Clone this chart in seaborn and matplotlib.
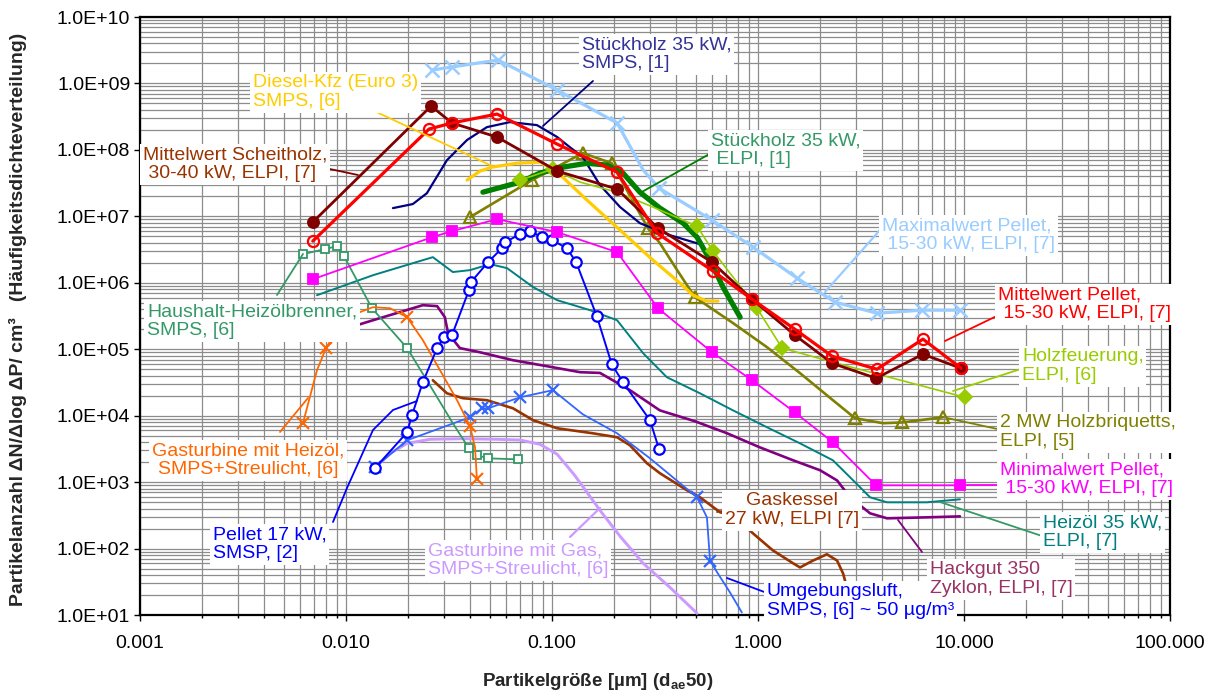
import numpy as np
import matplotlib
matplotlib.use("Agg")
import matplotlib.pyplot as plt
import matplotlib.ticker as mticker
from matplotlib.lines import Line2D
from matplotlib.transforms import IdentityTransform
import seaborn as sns

# ---------------------------------------------------------------------------
# Particle number size distributions, dN/dlog dP [1/cm^3] over particle size [µm]
# ---------------------------------------------------------------------------
max_pellet_x = [0.0262, 0.0327, 0.0547, 0.106, 0.207, 0.277, 0.331, 0.598, 0.946, 1.55, 2.37, 3.78, 6.25, 9.56]
max_pellet_y = [1.59e9, 1.77e9, 2.25e9, 7.96e8, 2.54e8, 4.97e7, 2.66e7, 8.77e6, 3.44e6, 1.17e6, 5.1e5, 3.48e5, 3.87e5, 3.87e5]

mean_pellet_x = [0.0069, 0.0253, 0.0327, 0.0541, 0.106, 0.207, 0.324, 0.605, 0.935, 1.51, 2.29, 3.78, 6.32, 9.67]
mean_pellet_y = [4.24e6, 2.06e8, 2.54e8, 3.46e8, 1.22e8, 4.63e7, 5.58e6, 1.50e6, 5.66e5, 2.0e5, 7.85e4, 5.0e4, 1.42e5, 5.18e4]

scheitholz_x = [0.0069, 0.0259, 0.0327, 0.0541, 0.106, 0.207, 0.327, 0.598, 0.935, 1.51, 2.29, 3.74, 6.32, 9.67]
scheitholz_y = [8.19e6, 4.57e8, 2.54e8, 1.56e8, 4.80e7, 2.57e7, 6.64e6, 2.04e6, 5.66e5, 1.63e5, 6.15e4, 3.66e4, 8.41e4, 5.18e4]

stueck_smps_x = [0.0169, 0.0211, 0.0247, 0.0309, 0.0387, 0.0483, 0.0625, 0.0845, 0.106, 0.122, 0.141, 0.171, 0.214, 0.267, 0.374, 0.523]
stueck_smps_y = [1.33e7, 1.53e7, 2.23e7, 7.0e7, 1.41e8, 2.2e8, 2.62e8, 2.36e8, 1.56e8, 1.10e8, 7.8e7, 2.95e7, 1.38e7, 7.9e6, 5.2e6, 3.81e6]

diesel_x = [0.0387, 0.0447, 0.0512, 0.0676, 0.0875, 0.1035, 0.148, 0.214, 0.309, 0.418, 0.483, 0.565, 0.639]
diesel_y = [3.51e7, 4.8e7, 5.5e7, 6.3e7, 6.55e7, 4.97e7, 1.75e7, 6.2e6, 2.19e6, 9.9e5, 6.5e5, 5.3e5, 5.3e5]

stueck_elpi_x = [0.0462, 0.070, 0.0875, 0.113, 0.148, 0.185, 0.221, 0.267, 0.334, 0.433, 0.506, 0.585, 0.676, 0.819]
stueck_elpi_y = [2.31e7, 3.27e7, 4.48e7, 5.5e7, 6.3e7, 5.9e7, 4.48e7, 2.31e7, 1.33e7, 7.9e6, 4.86e6, 2.19e6, 8.6e5, 3.03e5]

holzfeuerung_x = [0.070, 0.101, 0.137, 0.207, 0.309, 0.506, 0.605, 0.989, 1.31, 2.31, 10.1]
holzfeuerung_y = [3.51e7, 5.14e7, 3.27e7, 2.31e7, 1.38e7, 7.1e6, 2.99e6, 4.14e5, 1.04e5, 6.37e4, 1.89e4]

briketts_x = [0.040, 0.080, 0.141, 0.195, 0.221, 0.292, 0.334, 0.405, 0.494, 0.757, 1.107, 1.60, 2.31, 2.96, 4.05, 5.0, 7.9]
briketts_y = [9.73e6, 3.51e7, 8.96e7, 6.3e7, 3.16e7, 6.64e6, 3.95e6, 1.55e6, 6.07e5, 2.47e5, 1.07e5, 4.36e4, 1.71e4, 9.15e3, 7.7e3, 7.9e3, 9.46e3]

min_pellet_x = [0.0069, 0.0262, 0.0327, 0.0541, 0.106, 0.207, 0.327, 0.598, 0.935, 1.51, 2.31, 3.74, 9.56]
min_pellet_y = [1.13e6, 4.86e6, 5.98e6, 9.07e6, 5.78e6, 2.89e6, 4.14e5, 9.0e4, 3.41e4, 1.12e4, 3.97e3, 896, 896]

pellet17_x = [0.0138, 0.0198, 0.0209, 0.0236, 0.0277, 0.0299, 0.0327, 0.0395, 0.0404, 0.0489, 0.0572, 0.0592,
              0.070, 0.0782, 0.0893, 0.100, 0.118, 0.131, 0.165, 0.195, 0.221, 0.299, 0.331]
pellet17_y = [1.61e3, 5.62e3, 1.01e4, 3.19e4, 1.04e5, 1.52e5, 1.63e5, 7.7e5, 1.02e6, 2.04e6, 3.32e6, 4.08e6,
              5.4e6, 5.98e6, 4.86e6, 4.38e6, 3.32e6, 2.04e6, 3.14e5, 5.94e4, 3.19e4, 8.53e3, 3.12e3]

haushalt_x = [0.00618, 0.0079, 0.00904, 0.00977, 0.01337, 0.0198, 0.0264, 0.033, 0.0395, 0.0432, 0.0489, 0.0684]
haushalt_y = [2.7e6, 3.21e6, 3.56e6, 2.52e6, 4.14e5, 1.04e5, 2.42e4, 7.7e3, 3.23e3, 2.54e3, 2.28e3, 2.2e3]

gt_heizoel_x = [0.00618, 0.00723, 0.0080, 0.00914, 0.0099, 0.0113, 0.01352, 0.01637, 0.0198, 0.0236, 0.0286,
                0.0346, 0.040, 0.0423, 0.0432]
gt_heizoel_y = [7.7e3, 4.83e4, 1.04e5, 2.07e5, 2.14e5, 3.48e5, 4.29e5, 4.14e5, 3.03e5, 1.37e5, 4.83e4,
                1.71e4, 6.92e3, 3.34e3, 1.10e3]

heizoel35_x = [0.00723, 0.01352, 0.0264, 0.033, 0.040, 0.050, 0.0605, 0.081, 0.106, 0.153, 0.207, 0.277, 0.361,
               0.523, 0.757, 1.107, 1.60, 2.31, 2.80, 3.50, 4.23, 6.61, 9.56]
heizoel35_y = [6.5e5, 1.3e6, 2.43e6, 1.45e6, 1.55e6, 1.91e6, 1.66e6, 8.6e5, 5.47e5, 3.87e5, 2.73e5, 8.7e4, 3.79e4,
               2.17e4, 1.2e4, 6.68e3, 3.83e3, 2.13e3, 1.18e3, 590, 497, 497, 551]

hackgut_x = [0.00708, 0.01352, 0.0236, 0.0277, 0.0302, 0.0313, 0.0357, 0.0447, 0.0647, 0.0946, 0.137, 0.171,
             0.239, 0.334, 0.494, 0.708, 1.02, 1.48, 2.0, 2.42, 2.80, 3.50, 4.23, 6.61, 9.56]
hackgut_y = [1.47e5, 2.73e5, 4.6e5, 4.45e5, 3.03e5, 1.74e5, 1.04e5, 9.0e4, 6.83e4, 5.55e4, 4.51e4, 4.4e4,
             2.42e4, 1.2e4, 8.24e3, 5.43e3, 3.34e3, 2.13e3, 1.51e3, 1.06e3, 590, 339, 285, 295, 305]

gaskessel_x = [0.0264, 0.0309, 0.037, 0.0483, 0.0647, 0.081, 0.106, 0.158, 0.207, 0.239, 0.289, 0.334, 0.452,
               0.523, 0.655, 0.757, 0.946, 1.18, 1.48, 1.60, 1.85, 2.16, 2.42, 2.59, 2.74]
gaskessel_y = [3.41e4, 2.17e4, 1.83e4, 1.71e4, 1.29e4, 8.53e3, 6.46e3, 5.43e3, 4.73e3, 3.58e3, 1.92e3, 1.36e3, 754,
               590, 351, 316, 169, 94, 60, 52, 66, 82, 66, 42, 21.9]

gt_gas_x = [0.0138, 0.0164, 0.0198, 0.0256, 0.037, 0.0541, 0.070, 0.0875, 0.106, 0.129, 0.171, 0.214, 0.277, 0.374, 0.506]
gt_gas_y = [1.61e3, 2.72e3, 3.83e3, 4.41e3, 4.5e3, 4.41e3, 4.3e3, 3.71e3, 2.62e3, 1.26e3, 376, 153, 60, 26, 10.6]

umgebung_x = [0.0138, 0.0198, 0.040, 0.0457, 0.0489, 0.070, 0.101, 0.141, 0.207, 0.299, 0.506, 0.565, 0.585,
              0.633, 0.731, 0.835]
umgebung_y = [1.67e3, 4.26e3, 9.46e3, 1.29e4, 1.29e4, 1.89e4, 2.42e4, 1.05e4, 5.43e3, 2.28e3, 590, 295, 66,
              44, 21.9, 10.9]

x_ticks = [0.001, 0.01, 0.1, 1, 10, 100]
y_ticks = [1e1, 1e2, 1e3, 1e4, 1e5, 1e6, 1e7, 1e8, 1e9, 1e10]

# ---------------------------------------------------------------------------
sns.set_theme(style="white")
plt.rcParams["font.family"] = ["Liberation Sans", "DejaVu Sans"]
plt.rcParams["mathtext.fontset"] = "custom"
plt.rcParams["mathtext.rm"] = "Liberation Sans"
plt.rcParams["mathtext.bf"] = "Liberation Sans:bold"

W, H = 1219, 695
fig = plt.figure(figsize=(W / 100, H / 100), dpi=100)
fig.patch.set_facecolor("white")
ax = fig.add_axes([140 / W, 1 - 615 / H, 1030 / W, 598 / H])
ax.set_facecolor("white")
ax.set_xscale("log")
ax.set_yscale("log")


def curve(x, y, color, lw, marker=None, ms=0, mfc=None, mew=1.3, every=None, z=3):
    kw = dict(color=color, linewidth=lw, sort=False, estimator=None, ax=ax, zorder=z)
    if marker:
        kw.update(marker=marker, markersize=ms, markeredgecolor=color,
                  markerfacecolor=color if mfc is None else mfc, markeredgewidth=mew)
        if every is not None:
            kw["markevery"] = every
    sns.lineplot(x=x, y=y, **kw)


# series, back to front
curve(gt_gas_x, gt_gas_y, "#CC99FF", 2.1)
curve(gaskessel_x, gaskessel_y, "#993300", 1.9)
curve(hackgut_x, hackgut_y, "#800080", 1.9)
curve(heizoel35_x, heizoel35_y, "#008080", 1.4)
curve(umgebung_x, umgebung_y, "#3366FF", 1.3, "x", 9, mew=1.6, every=[0, 1, 2, 3, 4, 5, 6, 10, 12])
curve(haushalt_x, haushalt_y, "#339966", 1.3, "s", 6, mfc="white", every=[0, 1, 2, 3, 4, 5, 8, 9, 10, 11])
curve(gt_heizoel_x, gt_heizoel_y, "#FF6600", 1.3, "x", 8, mew=1.5, every=[0, 2, 3, 4, 8, 12, 14])
curve(pellet17_x, pellet17_y, "#0000FF", 1.4, "o", 7.5, mfc="white", mew=1.6)
curve(min_pellet_x, min_pellet_y, "#FF00FF", 1.3, "s", 7)
curve(max_pellet_x, max_pellet_y, "#99CCFF", 2.3, "x", 10, mew=1.8, every=[0, 1, 2, 3, 4, 6, 7, 8, 9, 10, 11, 12, 13])
curve(briketts_x, briketts_y, "#808000", 1.9, "^", 8, mfc="none", mew=1.6, every=[0, 1, 2, 3, 5, 8, 13, 15, 16])
curve(diesel_x, diesel_y, "#FFCC00", 2.3)
curve(stueck_smps_x, stueck_smps_y, "#000080", 1.6)
curve(stueck_elpi_x, stueck_elpi_y, "#008000", 3.8)
curve(holzfeuerung_x, holzfeuerung_y, "#99CC00", 1.2, "D", 7, every=[0, 1, 5, 6, 7, 8, 10])
curve(scheitholz_x, scheitholz_y, "#800000", 2.0, "o", 8)
curve(mean_pellet_x, mean_pellet_y, "#FF0000", 2.3, "o", 8, mfc="none", mew=1.6)

# axes, grid and ticks
ax.set_xlim(1e-3, 1e2)
ax.set_ylim(1e1, 1e10)
ax.xaxis.set_major_locator(mticker.FixedLocator(x_ticks))
ax.yaxis.set_major_locator(mticker.FixedLocator(y_ticks))
ax.xaxis.set_minor_locator(mticker.LogLocator(base=10, subs=np.arange(2, 10), numticks=30))
ax.yaxis.set_minor_locator(mticker.LogLocator(base=10, subs=np.arange(2, 10), numticks=30))
ax.xaxis.set_major_formatter(mticker.FuncFormatter(lambda v, _: f"{v:.3f}"))
ax.yaxis.set_major_formatter(mticker.FuncFormatter(lambda v, _: f"{v:.1E}"))
ax.xaxis.set_minor_formatter(mticker.NullFormatter())
ax.yaxis.set_minor_formatter(mticker.NullFormatter())
ax.grid(True, which="both", color="#8c8c8c", linewidth=0.9)
ax.set_axisbelow(True)
ax.tick_params(which="both", bottom=True, left=True, direction="out", color="black", width=1)
ax.tick_params(axis="both", which="major", length=4, labelsize=14, labelcolor="black")
ax.tick_params(axis="x", which="major", pad=10.5)
ax.tick_params(axis="y", which="major", pad=3)
ax.tick_params(axis="x", which="minor", length=2.5)
ax.tick_params(axis="y", which="minor", length=0)
for s in ax.spines.values():
    s.set_visible(True)
    s.set_color("black")
    s.set_linewidth(1.6)
ax.set_xlabel("")
ax.set_ylabel("")

fig.text(598 / W, 1 - 681 / H, "Partikelgröße [µm] (d$_{\\mathbf{ae}}$50)", fontsize=13.5,
         fontweight="bold", ha="center", va="center")
fig.text(18 / W, 1 - 319 / H,
         "Partikelanzahl ΔN/Δlog ΔP/ cm³   (Häufigkeitsdichteverteilung)",
         fontsize=14, fontweight="bold", rotation=90, ha="center", va="center")


# series labels with leader lines (positions in figure pixels, measured from the top)
def leader(points, color, lw=1.3):
    xs = [p[0] for p in points]
    ys = [H - p[1] for p in points]
    fig.add_artist(Line2D(xs, ys, color=color, linewidth=lw, transform=IdentityTransform(), zorder=10))


def label(text, x, y, color, ha="left"):
    fig.text(x / W, 1 - y / H, text, color=color, fontsize=14, ha=ha, va="baseline",
             linespacing=1.13, zorder=20,
             bbox=dict(facecolor="white", edgecolor="none", pad=2.0))


leader([(340, 95), (492, 166)], "#FFCC00")
leader([(593, 81), (543, 126)], "#000080")
leader([(325, 168), (358, 175)], "#800000")
leader([(713, 152), (640, 193)], "#008000")
leader([(880, 230), (825, 292)], "#99CCFF", 1.6)
leader([(1003, 313), (945, 341)], "#FF0000")
leader([(1027, 367), (953, 391)], "#99CC00")
leader([(1002, 430), (947, 418)], "#808000")
leader([(960, 485), (1000, 485)], "#FF00FF")
leader([(1042, 536), (940, 502)], "#339966")
leader([(922, 552), (898, 520)], "#800080")
leader([(767, 593), (727, 578)], "#0000FF")
leader([(737, 508), (717, 512)], "#993300")
leader([(570, 537), (600, 508)], "#CC99FF", 1.6)
leader([(333, 522), (347, 488), (373, 430), (393, 410), (417, 401)], "#0000FF")
leader([(280, 432), (308, 398)], "#FF6600")
leader([(277, 295), (303, 254)], "#339966")

label("Diesel-Kfz (Euro 3)\nSMPS, [6]", 253, 106, "#FFCC00")
label("Stückholz 35 kW,\nSMPS, [1]", 582, 68, "#333399")
label("Mittelwert Scheitholz,\n 30-40 kW, ELPI, [7]", 143, 178, "#993300")
label("Stückholz 35 kW,\n ELPI, [1]", 711, 164, "#339966")
label("Maximalwert Pellet,\n 15-30 kW, ELPI, [7]", 882, 249, "#99CCFF")
label("Mittelwert Pellet,\n 15-30 kW, ELPI, [7]", 998, 318, "#FF0000")
label("Holzfeuerung,\nELPI, [6]", 1022, 380, "#99CC00")
label("2 MW Holzbriquetts,\nELPI, [5]", 1000, 446, "#808000")
label("Minimalwert Pellet,\n 15-30 kW, ELPI, [7]", 1000, 493, "#FF00FF")
label("Heizöl 35 kW,\nELPI, [7]", 1043, 546, "#008080")
label("Umgebungsluft,\nSMPS, [6] ~ 50 µg/m³", 767, 615, "#0000FF")
label("Hackgut 350\nZyklon, ELPI, [7]", 930, 593, "#993366")
label("Gaskessel\n27 kW, ELPI [7]", 792, 524, "#993300", ha="center")
label("Gasturbine mit Gas,\nSMPS+Streulicht, [6]", 428, 574, "#CC99FF")
label("Pellet 17 kW,\nSMSP, [2]", 213, 558, "#0000FF")
label("Gasturbine mit Heizöl,\nSMPS+Streulicht, [6]", 248, 474, "#FF6600", ha="center")
label("Haushalt-Heizölbrenner,\nSMPS, [6]", 147, 335, "#339966")

fig.savefig("out.png", dpi=100, facecolor="white")
